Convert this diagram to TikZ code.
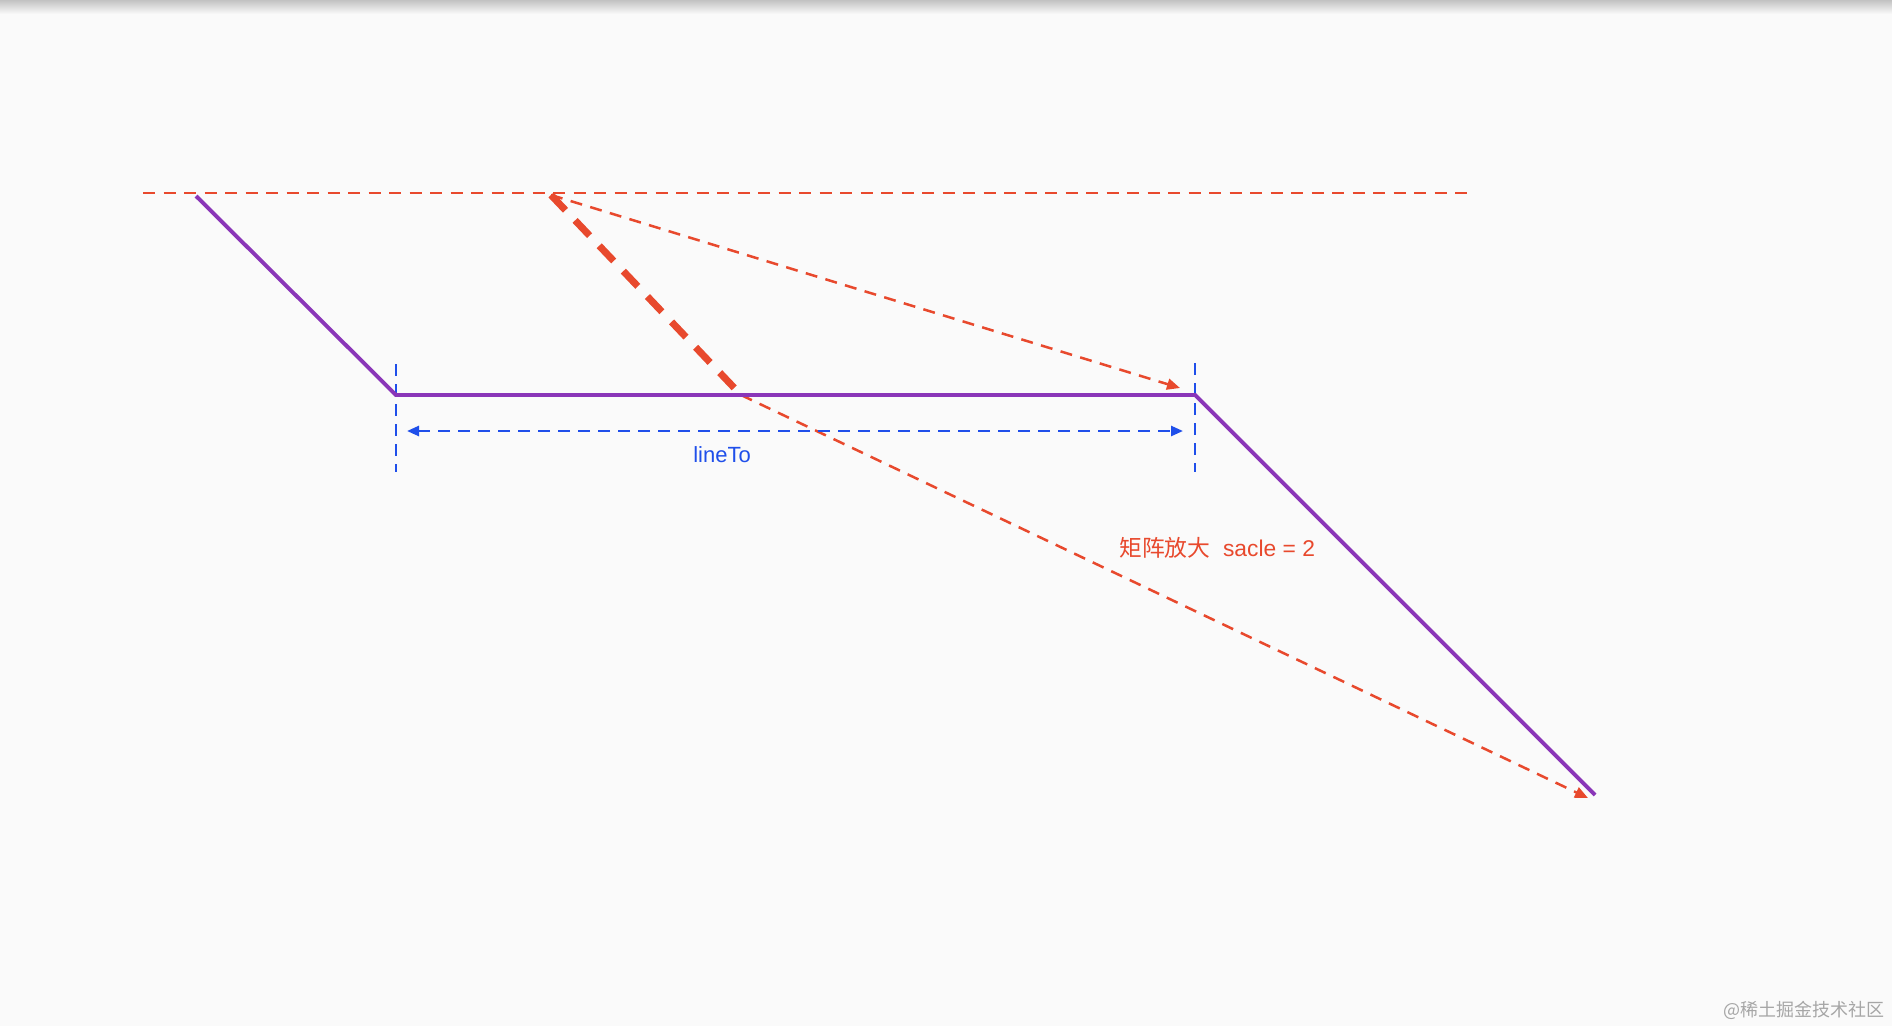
\documentclass[tikz,border=0pt]{standalone}
\usepackage{fontspec}
\setmainfont{Liberation Sans}
\newfontfamily\cjk{Noto Sans CJK SC}
\usetikzlibrary{arrows.meta}
\definecolor{bg}{HTML}{FAFAFA}
\definecolor{redd}{HTML}{E8492D}
\definecolor{purp}{HTML}{8A36B8}
\definecolor{bluu}{HTML}{1F4FEA}
\definecolor{wm}{HTML}{A6A6A6}
\begin{document}
\begin{tikzpicture}[x=1pt,y=-1pt,
  reddash/.style={draw=redd, line width=2.5pt, dash pattern=on 12pt off 8.5pt},
  redthick/.style={draw=redd, line width=7pt, dash pattern=on 21pt off 14pt},
  bluedash/.style={draw=bluu, line width=2.5pt, dash pattern=on 12pt off 8pt},
  purpline/.style={draw=purp, line width=3.9pt},
  redtip/.style={-{Triangle[length=13pt,width=11pt]}},
  bluetips/.style={{Triangle[length=12pt,width=10pt]}-{Triangle[length=12pt,width=10pt]}},
  lbl/.style={inner sep=0pt, font=\fontsize{22}{26}\selectfont}
]
\useasboundingbox (0,0) rectangle (1892,1026);
\fill[bg] (0,0) rectangle (1892,1026);
\shade[top color=black!24, bottom color=bg] (0,0) rectangle (1892,14);

% coordinates
\coordinate (tl) at (143,193);
\coordinate (tr) at (1468,193);
\coordinate (p0) at (196,196);
\coordinate (p1) at (396,395);
\coordinate (p2) at (1195,395);
\coordinate (p3) at (1595,795);
\coordinate (s) at (551,195);
\coordinate (m) at (741,395);
\coordinate (a1) at (1180,388);
\coordinate (a2) at (1588,798);
\coordinate (v1t) at (396,364);
\coordinate (v1b) at (396,472);
\coordinate (v2t) at (1195,363);
\coordinate (v2b) at (1195,472);
\coordinate (bl) at (407,431);
\coordinate (br) at (1183,431);

% red dashed reference line
\draw[reddash] (tl) -- (tr);
% red arrows
\draw[reddash, redtip] (s) -- (a1);
\draw[reddash, redtip] (m) -- (a2);
\draw[redthick] (s) -- (m);

% blue measurement
\draw[bluedash] (v1t) -- (v1b);
\draw[bluedash] (v2t) -- (v2b);
\draw[bluedash, bluetips] (bl) -- (br);

% purple polyline
\draw[purpline] (p0) -- (p1) -- (p2) -- (p3);

% labels
\node[lbl, text=bluu, anchor=base] (lineto) at (722,462) {lineTo};
\node[lbl, text=redd, anchor=base west, font=\fontsize{22.8}{27}\selectfont] (scale) at (1119,556) {{\cjk 矩阵放大}\ \ sacle = 2};
\node[inner sep=0pt, anchor=base east, text=wm, font=\cjk\fontsize{18}{22}\selectfont] (wmk) at (1885,1016) {@稀土掘金技术社区};
\end{tikzpicture}
\end{document}
